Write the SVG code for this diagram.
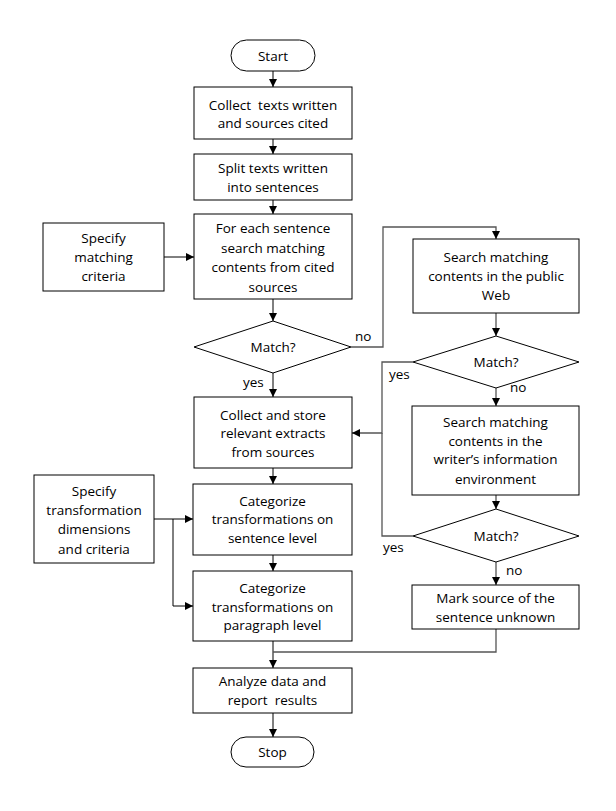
<svg xmlns="http://www.w3.org/2000/svg" width="616" height="811" viewBox="0 0 616 811">
<defs>
<marker id="ah" viewBox="0 0 10 10" refX="10" refY="5" markerWidth="8" markerHeight="8" markerUnits="userSpaceOnUse" orient="auto">
<path d="M0,0 L10,5 L0,10 z" fill="#000"/>
</marker>
<style>
.n{fill:#fff;stroke:#000;stroke-width:1}
.t{font-family:"Open Sans","Liberation Sans",sans-serif;font-size:13.5px;fill:#000;text-anchor:middle}
.l{font-family:"Open Sans","Liberation Sans",sans-serif;font-size:13.5px;fill:#000}
.c{fill:none;stroke:#000;stroke-width:1}
.g{fill:none;stroke:#555;stroke-width:1.3}
</style>
</defs>
<rect width="616" height="811" fill="#fff"/>
<g id="connectors">
<path class="c" d="M273,71 V87" marker-end="url(#ah)"/>
<path class="c" d="M273,139 V154" marker-end="url(#ah)"/>
<path class="c" d="M273,200 V214" marker-end="url(#ah)"/>
<path class="c" d="M164,257 H194" marker-end="url(#ah)"/>
<path class="c" d="M273,299 V321" marker-end="url(#ah)"/>
<path class="c" d="M273,373 V397" marker-end="url(#ah)"/>
<path class="g" d="M351,347 H383 V227 H496 V239" marker-end="url(#ah)"/>
<path class="g" d="M496,313 V336" marker-end="url(#ah)"/>
<path class="g" d="M496,388 V406" marker-end="url(#ah)"/>
<path class="g" d="M413,362 H382 V433 H352" marker-end="url(#ah)"/>
<path class="g" d="M496,495 V509" marker-end="url(#ah)"/>
<path class="g" d="M413,536 H382 V433"/>
<path class="g" d="M496,562 V585" marker-end="url(#ah)"/>
<path class="c" d="M273,468 V484" marker-end="url(#ah)"/>
<path class="c" d="M154,519 H193" marker-end="url(#ah)"/>
<path class="c" d="M173,519 V606 H193" marker-end="url(#ah)"/>
<path class="c" d="M273,555 V571" marker-end="url(#ah)"/>
<path class="c" d="M273,641 V668" marker-end="url(#ah)"/>
<path class="g" d="M496,629 V652 H273"/>
<path class="c" d="M273,713 V737" marker-end="url(#ah)"/>
<text class="l" x="355" y="341">no</text>
<text class="l" x="243" y="387">yes</text>
<text class="l" x="389" y="379">yes</text>
<text class="l" x="510" y="392">no</text>
<text class="l" x="383" y="552">yes</text>
<text class="l" x="506" y="575">no</text>
</g>
<g id="start">
<rect class="n" x="231" y="40" width="84" height="31" rx="15.5"/>
<text class="t" x="273" y="61">Start</text>
</g>
<g id="collect-texts">
<rect class="n" x="194" y="87" width="158" height="52"/>
<text class="t" x="273" y="110" xml:space="preserve">Collect  texts written</text>
<text class="t" x="273" y="128">and sources cited</text>
</g>
<g id="split">
<rect class="n" x="194" y="154" width="158" height="46"/>
<text class="t" x="273" y="173">Split texts written</text>
<text class="t" x="273" y="192">into sentences</text>
</g>
<g id="for-each">
<rect class="n" x="194" y="214" width="158" height="85"/>
<text class="t" x="273" y="233">For each sentence</text>
<text class="t" x="273" y="253">search matching</text>
<text class="t" x="273" y="272">contents from cited</text>
<text class="t" x="273" y="292">sources</text>
</g>
<g id="specify-matching">
<rect class="n" x="43" y="223" width="121" height="68"/>
<text class="t" x="103.5" y="243">Specify</text>
<text class="t" x="103.5" y="262">matching</text>
<text class="t" x="103.5" y="281">criteria</text>
</g>
<g id="match1">
<polygon class="n" points="273,321 351,347 273,373 194,347"/>
<text class="t" x="273" y="352">Match?</text>
</g>
<g id="public-web">
<rect class="n" x="413" y="239" width="166" height="74"/>
<text class="t" x="496" y="262">Search matching</text>
<text class="t" x="496" y="281">contents in the public</text>
<text class="t" x="496" y="300">Web</text>
</g>
<g id="match2">
<polygon class="n" points="496,336 579,362 496,388 413,362"/>
<text class="t" x="496" y="367">Match?</text>
</g>
<g id="collect-store">
<rect class="n" x="194" y="397" width="158" height="71"/>
<text class="t" x="273" y="420">Collect and store</text>
<text class="t" x="273" y="438">relevant extracts</text>
<text class="t" x="273" y="457">from sources</text>
</g>
<g id="writer-env">
<rect class="n" x="412" y="406" width="167" height="89"/>
<text class="t" x="495.5" y="427">Search matching</text>
<text class="t" x="495.5" y="446">contents in the</text>
<text class="t" x="495.5" y="464">writer’s information</text>
<text class="t" x="495.5" y="484">environment</text>
</g>
<g id="match3">
<polygon class="n" points="496,509 579,536 496,562 413,536"/>
<text class="t" x="496" y="541">Match?</text>
</g>
<g id="mark-unknown">
<rect class="n" x="412" y="585" width="167" height="44"/>
<text class="t" x="495.5" y="603">Mark source of the</text>
<text class="t" x="495.5" y="622">sentence unknown</text>
</g>
<g id="specify-transformation">
<rect class="n" x="34" y="475" width="120" height="88"/>
<text class="t" x="94" y="496">Specify</text>
<text class="t" x="94" y="515">transformation</text>
<text class="t" x="94" y="534">dimensions</text>
<text class="t" x="94" y="554">and criteria</text>
</g>
<g id="cat-sentence">
<rect class="n" x="193" y="484" width="159" height="71"/>
<text class="t" x="272.5" y="506">Categorize</text>
<text class="t" x="272.5" y="524">transformations on</text>
<text class="t" x="272.5" y="543">sentence level</text>
</g>
<g id="cat-paragraph">
<rect class="n" x="193" y="571" width="159" height="70"/>
<text class="t" x="272.5" y="593">Categorize</text>
<text class="t" x="272.5" y="612">transformations on</text>
<text class="t" x="272.5" y="630">paragraph level</text>
</g>
<g id="analyze">
<rect class="n" x="193" y="668" width="159" height="45"/>
<text class="t" x="272.5" y="686">Analyze data and</text>
<text class="t" x="272.5" y="705" xml:space="preserve">report  results</text>
</g>
<g id="stop">
<rect class="n" x="231" y="737" width="83" height="30" rx="15"/>
<text class="t" x="272.5" y="757">Stop</text>
</g>
</svg>
